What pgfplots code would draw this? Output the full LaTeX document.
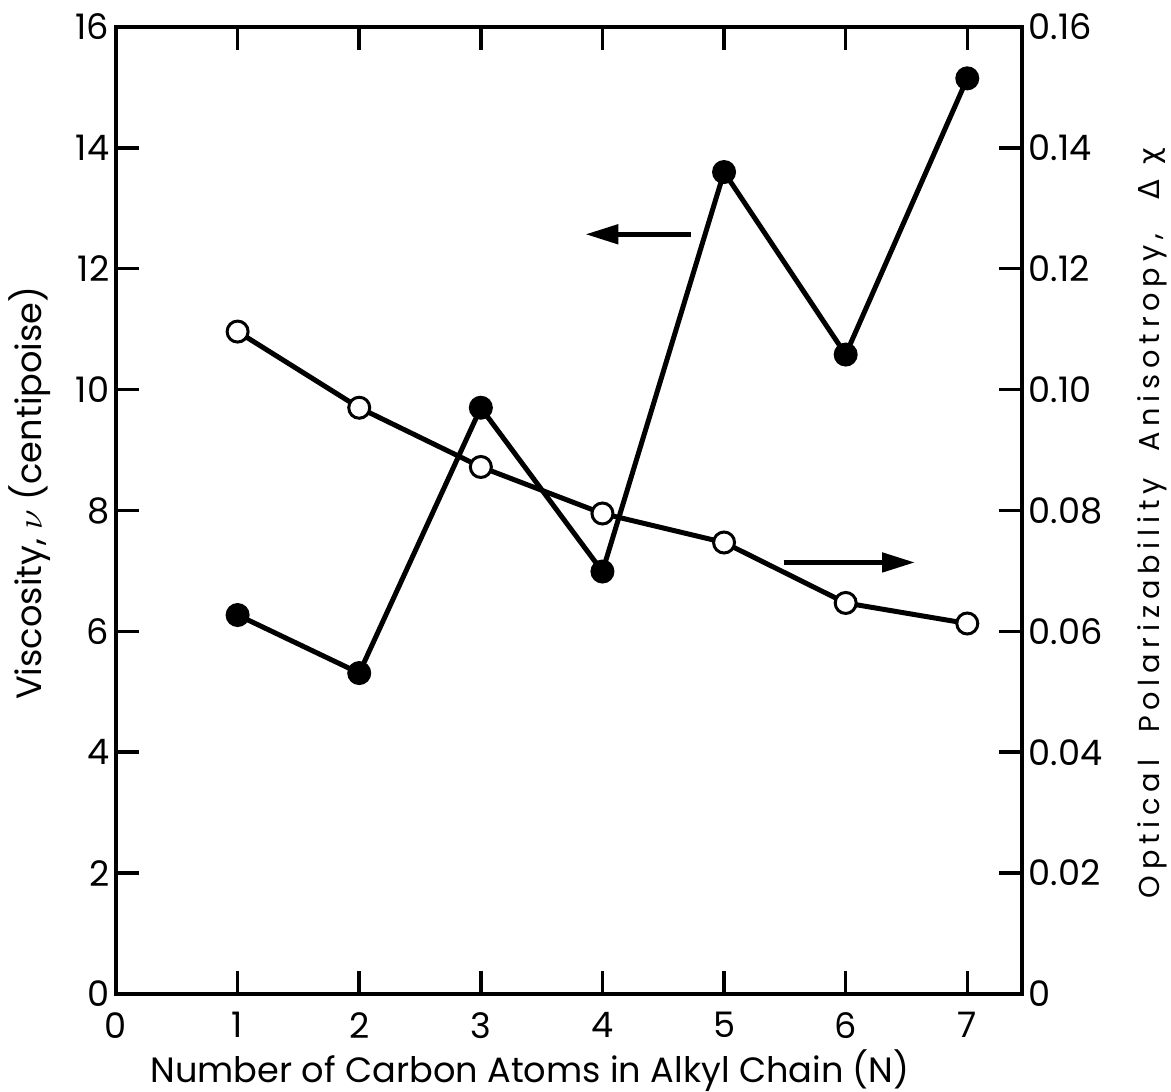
\documentclass[border=0pt]{standalone}
\usepackage{fontspec}
\setmainfont{Poppins}
\newfontfamily\greek{DejaVu Sans}
\usepackage{pgfplots}
\pgfplotsset{compat=1.18}
\usetikzlibrary{arrows.meta}

\begin{document}
\begin{tikzpicture}
\pgfplotsset{
  common/.style={
    scale only axis, width=90.6mm, height=96.7mm,
    xmin=0, xmax=7.45,
    tick align=inside, major tick length=2.3mm,
    tick style={line width=0.35mm, black},
    axis line style={line width=0.4mm},
    tick label style={font=\fontsize{10}{12}\selectfont},
  }
}
% viscosity, left scale
\begin{axis}[common, ymin=0, ymax=16,
  xtick={0,...,7}, xticklabels={0,1,2,3,4,5,6,7}, xtick pos=both,
  ytick={0,2,...,16}, yticklabels={0,2,4,6,8,10,12,14,16}, ytick pos=left,
  xticklabel style={yshift=-0.6mm},
  yticklabel style={inner sep=0.6mm},
  xlabel={Number of Carbon Atoms in Alkyl Chain (N)},
  xlabel style={at={(axis description cs:0.457,-0.092)}, anchor=base,
    font=\fontsize{10}{12}\selectfont},
  ylabel={Viscosity, $\nu$ (centipoise)},
  ylabel style={at={(axis description cs:-0.095,0.518)}, anchor=center,
    font=\fontsize{10}{12}\selectfont},
]
\addplot[black, line width=0.5mm, mark=*, mark size=1.1mm,
  mark options={fill=black, line width=0.2mm}]
  coordinates {(1,6.27)(2,5.31)(3,9.70)(4,6.99)(5,13.6)(6,10.58)(7,15.15)};
\draw[line width=0.5mm, -{Triangle[length=3.3mm,width=1.9mm]}]
  (axis cs:4.73,12.57) -- (axis cs:3.86,12.57);
\draw[line width=0.5mm, -{Triangle[length=3.3mm,width=1.9mm]}]
  (axis cs:5.49,7.14) -- (axis cs:6.57,7.14);
\coordinate (bl) at (rel axis cs:0,0);
\coordinate (tr) at (rel axis cs:1,1);
\end{axis}
% anisotropy, right scale
\begin{axis}[common, ymin=0, ymax=0.16,
  axis x line=none, axis y line*=right, axis line style={-, line width=0.4mm},
  ytick={0,0.02,0.04,0.06,0.08,0.10,0.12,0.14,0.16},
  yticklabels={0,0.02,0.04,0.06,0.08,0.10,0.12,0.14,0.16},
  yticklabel style={inner sep=0.6mm},
  ylabel={Optical\ \ Polarizability\ \ Anisotropy,\hspace{3.5mm}{\greek Δ\hspace{1.5mm}χ}},
  ylabel style={at={(axis description cs:1.1435,0.487)}, anchor=center,
    font=\fontsize{8.2}{10}\selectfont\addfontfeatures{LetterSpace=20}},
]
\addplot[black, line width=0.5mm, mark=*, mark size=1.05mm,
  mark options={fill=white, draw=black, line width=0.3mm}]
  coordinates {(1,0.1096)(2,0.097)(3,0.0872)(4,0.0795)(5,0.0747)(6,0.0647)(7,0.0613)};
\end{axis}
\pgfresetboundingbox
\useasboundingbox ([xshift=-11.6mm,yshift=-9.8mm]bl) rectangle ([xshift=14.9mm,yshift=2.7mm]tr);
\end{tikzpicture}
\end{document}
